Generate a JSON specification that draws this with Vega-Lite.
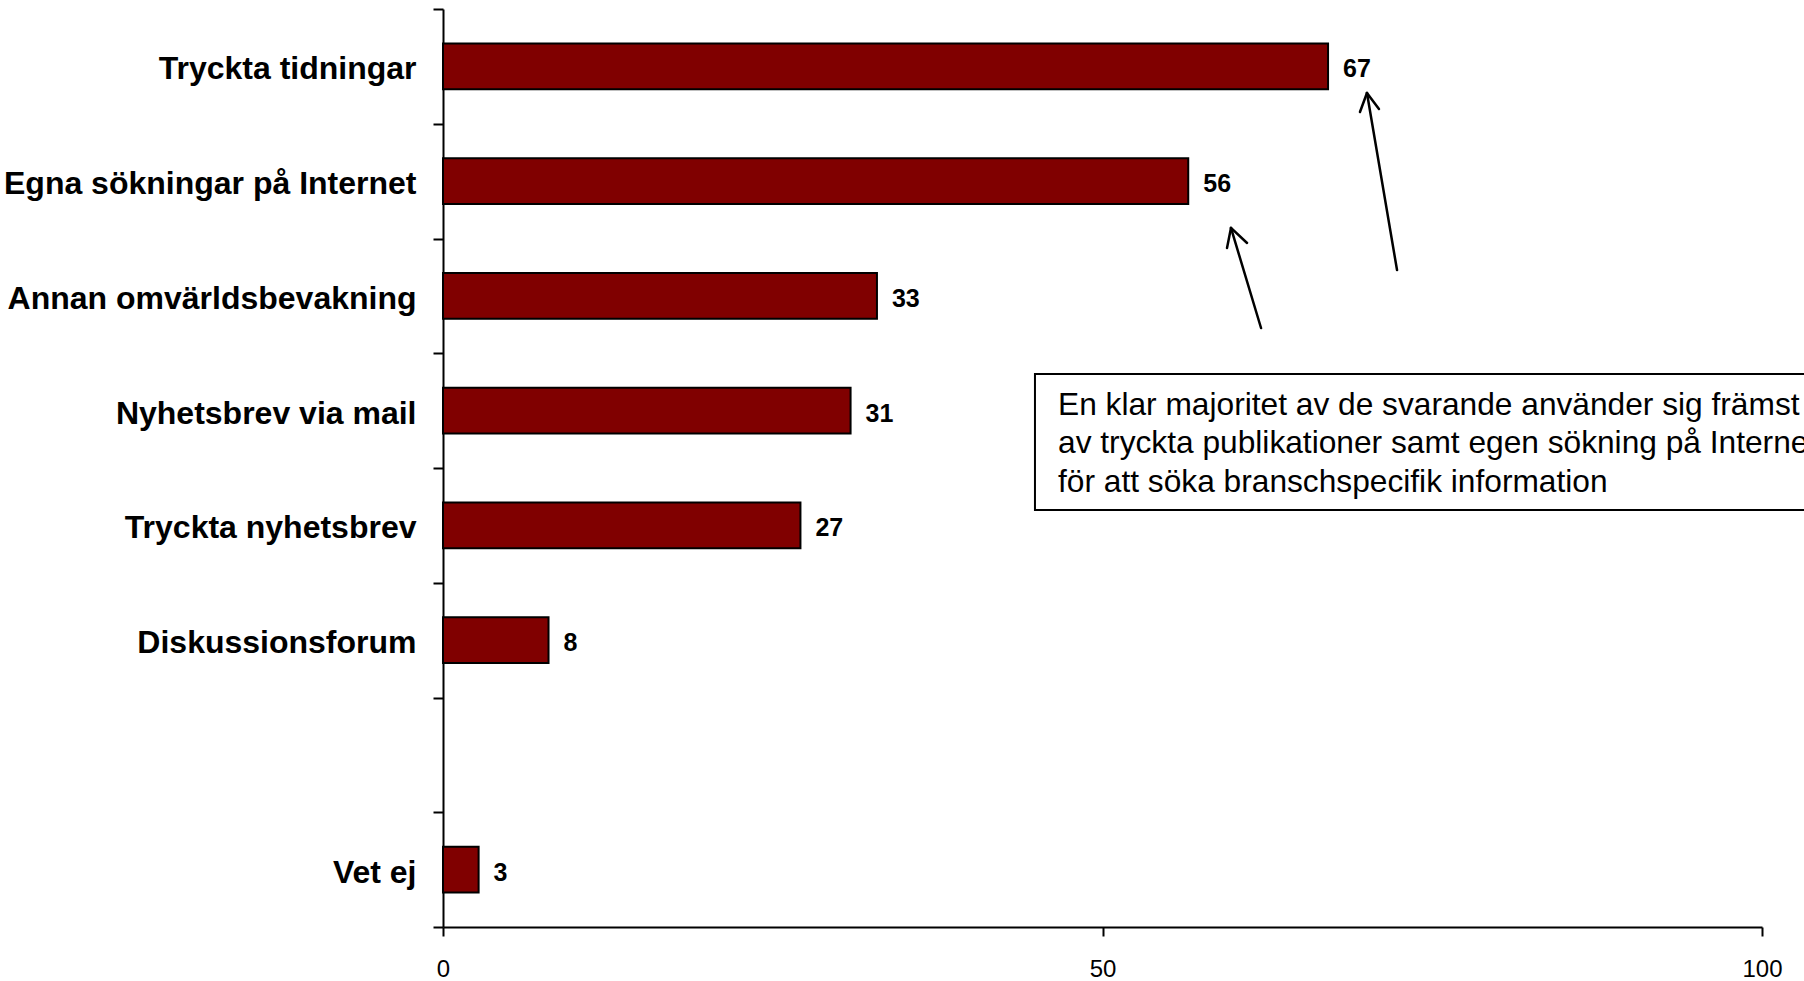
{
  "$schema": "https://vega.github.io/schema/vega-lite/v6.json",
  "width": 1319,
  "height": 918,
  "autosize": {"type": "none"},
  "padding": {"left": 443, "top": 9, "right": 42, "bottom": 54},
  "background": "white",
  "config": {
    "view": {"stroke": null},
    "font": "Liberation Sans",
    "axis": {"grid": false},
    "axisX": {
      "domainColor": "black",
      "domainWidth": 2,
      "tickColor": "black",
      "tickSize": 9,
      "tickWidth": 2,
      "labelFont": "Liberation Sans",
      "labelFontSize": 24,
      "labelColor": "black",
      "labelPadding": 21,
      "labelFlush": false
    }
  },
  "datasets": {
    "bars": [
      {"kategori": "Tryckta tidningar", "andel": 67.1, "etikett": "67"},
      {"kategori": "Egna sökningar på Internet", "andel": 56.5, "etikett": "56"},
      {"kategori": "Annan omvärldsbevakning", "andel": 32.9, "etikett": "33"},
      {"kategori": "Nyhetsbrev via mail", "andel": 30.9, "etikett": "31"},
      {"kategori": "Tryckta nyhetsbrev", "andel": 27.1, "etikett": "27"},
      {"kategori": "Diskussionsforum", "andel": 8.0, "etikett": "8"},
      {"kategori": "Vet ej", "andel": 2.7, "etikett": "3"}
    ],
    "box": [
      {"x": 44.88, "x2": 115, "pos": 3.181, "pos2": 4.366}
    ],
    "note": [
      {"rad": "En klar majoritet av de svarande använder sig främst", "x": 46.63, "pos": 3.538},
      {"rad": "av tryckta publikationer samt egen sökning på Internet", "x": 46.63, "pos": 3.869},
      {"rad": "för att söka branschspecifik information", "x": 46.63, "pos": 4.209}
    ],
    "arrows": [
      {"x": 62.02, "pos": 2.780, "x2": 59.74, "pos2": 1.908},
      {"x": 59.44, "pos": 2.083, "x2": 59.74, "pos2": 1.908},
      {"x": 60.96, "pos": 2.039, "x2": 59.74, "pos2": 1.908},
      {"x": 72.33, "pos": 2.275, "x2": 70.05, "pos2": 0.732},
      {"x": 69.52, "pos": 0.898, "x2": 70.05, "pos2": 0.732},
      {"x": 70.96, "pos": 0.871, "x2": 70.05, "pos2": 0.732}
    ]
  },
  "layer": [
    {
      "data": {"name": "bars"},
      "encoding": {
        "y": {
          "field": "kategori",
          "type": "nominal",
          "sort": null,
          "scale": {
            "domain": ["Tryckta tidningar", "Egna sökningar på Internet", "Annan omvärldsbevakning", "Nyhetsbrev via mail", "Tryckta nyhetsbrev", "Diskussionsforum", " ", "Vet ej"],
            "paddingInner": 0.6,
            "paddingOuter": 0.3
          },
          "axis": {
            "orient": "left",
            "title": null,
            "ticks": false,
            "tickSize": 0,
            "domain": false,
            "labelFont": "Liberation Sans",
            "labelFontSize": 32,
            "labelFontWeight": "bold",
            "labelColor": "black",
            "labelPadding": 27,
            "labelOffset": 3,
            "labelLimit": 0
          }
        },
        "x": {
          "field": "andel",
          "type": "quantitative",
          "scale": {"domain": [0, 100], "nice": false},
          "axis": {"title": null, "values": [0, 50, 100]}
        }
      },
      "layer": [
        {"mark": {"type": "bar", "fill": "#800000", "stroke": "black", "strokeWidth": 2}},
        {
          "mark": {"type": "text", "align": "left", "baseline": "middle", "dx": 15, "dy": 3, "fontSize": 25, "fontWeight": "bold", "font": "Liberation Sans", "color": "black"},
          "encoding": {"text": {"field": "etikett", "type": "nominal"}}
        }
      ]
    },
    {
      "layer": [
        {
          "data": {"name": "box"},
          "mark": {"type": "rect", "fill": "white", "stroke": "black", "strokeWidth": 2},
          "encoding": {
            "x": {"field": "x", "type": "quantitative", "axis": {"title": null}},
            "x2": {"field": "x2"},
            "y": {"field": "pos", "type": "quantitative", "scale": {"domain": [0, 8], "reverse": true, "nice": false, "zero": false},
              "axis": {"orient": "left", "title": null, "values": [0, 1, 2, 3, 4, 5, 6, 7, 8], "labels": false, "ticks": true, "tickSize": 10, "tickWidth": 2, "tickColor": "black", "domain": true, "domainColor": "black", "domainWidth": 2}},
            "y2": {"field": "pos2"}
          }
        },
        {
          "data": {"name": "note"},
          "mark": {"type": "text", "align": "left", "baseline": "alphabetic", "fontSize": 31.7, "font": "Liberation Sans", "color": "black"},
          "encoding": {
            "x": {"field": "x", "type": "quantitative", "axis": {"title": null}},
            "y": {"field": "pos", "type": "quantitative"},
            "text": {"field": "rad"}
          }
        },
        {
          "data": {"name": "arrows"},
          "mark": {"type": "rule", "stroke": "black", "strokeWidth": 2.5, "strokeCap": "round"},
          "encoding": {
            "x": {"field": "x", "type": "quantitative", "axis": {"title": null}},
            "x2": {"field": "x2"},
            "y": {"field": "pos", "type": "quantitative"},
            "y2": {"field": "pos2"}
          }
        }
      ]
    }
  ],
  "resolve": {"scale": {"y": "independent"}, "axis": {"y": "independent"}}
}
